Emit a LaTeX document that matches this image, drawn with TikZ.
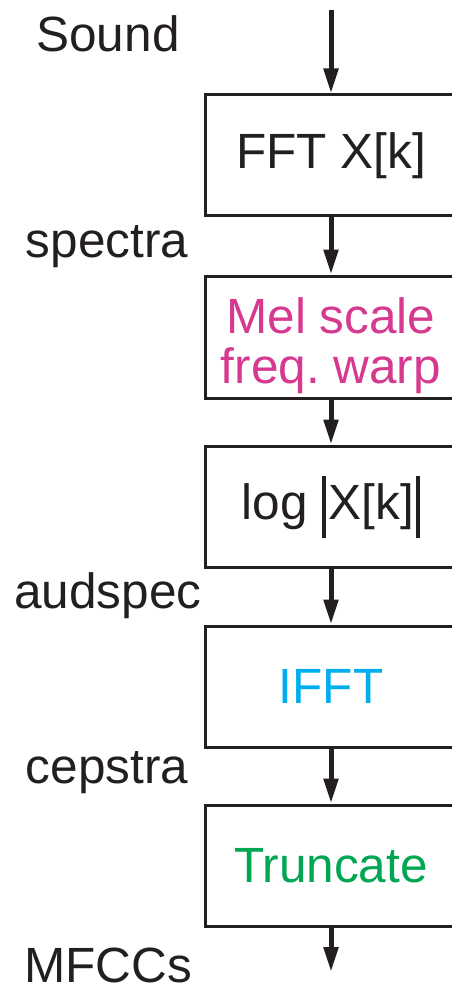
\documentclass[tikz,border=0pt]{standalone}
\usepackage{fontspec}
\setmainfont{Liberation Sans}
\usetikzlibrary{arrows.meta}
\definecolor{ink}{HTML}{231F20}
\definecolor{melpink}{HTML}{D6398F}
\definecolor{ifftblue}{HTML}{00AEEF}
\definecolor{truncgreen}{HTML}{00A651}
% tall magnitude bar
\newcommand{\magbar}{\rule[-18pt]{4pt}{62pt}}
\tikzset{
  stage/.style={draw=ink, line width=3pt, minimum width=252pt, inner sep=0pt,
    align=center, font=\fontsize{49.5}{50}\selectfont, text=ink},
  word/.style={inner sep=0pt, align=center, font=\fontsize{49.5}{50}\selectfont},
  sig/.style={anchor=base, inner sep=0pt, font=\fontsize{49.5}{50}\selectfont, text=ink},
  flow/.style={draw=ink, line width=5pt, -{Triangle[length=25pt,width=14pt]}}
}
\begin{document}
\begin{tikzpicture}[x=1pt,y=-1pt]
\useasboundingbox (0,0) rectangle (451,992);

% processing stages
\node[stage, minimum height=121pt] (fft) at (331,155.5) {FFT X[k]};
\node[stage, minimum height=122pt] (mel) at (331,337) {};
\node[word, text=melpink] (meltext) at ([yshift=-9pt]mel.center) {Mel scale\\freq.\ warp};
\node[stage, minimum height=121pt] (log) at (331,506.5)
  {log \magbar\kern3pt X[k]\kern2pt\magbar};
\node[stage, minimum height=121pt, text=ifftblue] (ifft) at (331,686.5) {IFFT};
\node[stage, minimum height=121pt, text=truncgreen] (trunc) at (331,865.5) {Truncate};

% signal names
\node[sig] (sound) at (108,52) {Sound};
\node[sig] (spectra) at (107,258) {spectra};
\node[sig] (audspec) at (108,608) {audspec};
\node[sig] (cepstra) at (107,783) {cepstra};
\node[sig] (mfcc) at (108,982) {MFCCs};

% connectors
\coordinate (in) at (331,10);
\coordinate (out) at (331,972);
\draw[flow] (in) -- (fft.north);
\draw[flow] (fft.south) -- (mel.north);
\draw[flow] (mel.south) -- (log.north);
\draw[flow] (log.south) -- (ifft.north);
\draw[flow] (ifft.south) -- (trunc.north);
\draw[flow] (trunc.south) -- (out);
\end{tikzpicture}
\end{document}
